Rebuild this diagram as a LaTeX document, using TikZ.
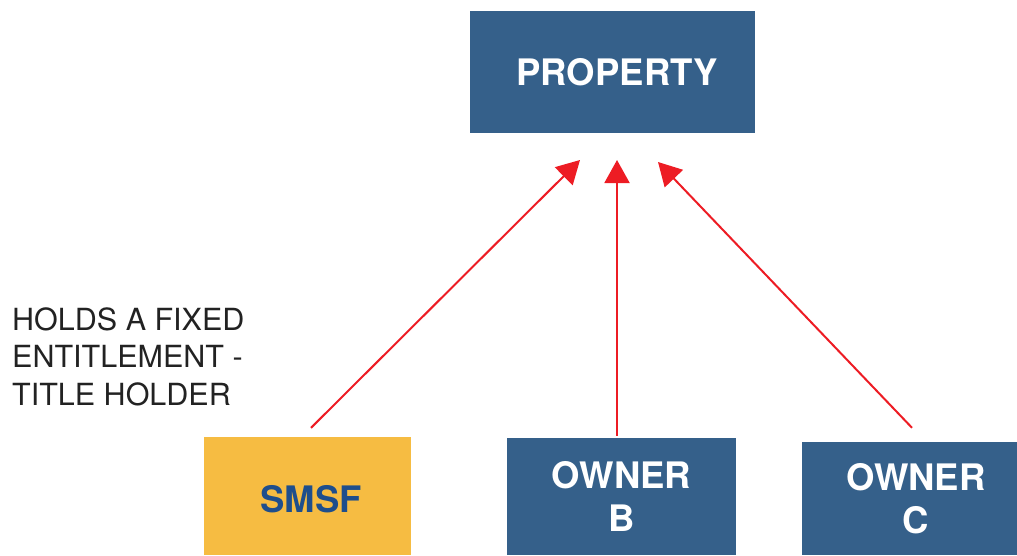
\documentclass[tikz,border=0pt]{standalone}
\usepackage{fontspec}
\setmainfont{TeX Gyre Heros}
\usetikzlibrary{arrows.meta}
\definecolor{boxblue}{RGB}{53,96,138}
\definecolor{boxyellow}{RGB}{246,188,66}
\definecolor{smsftext}{RGB}{30,78,140}
\definecolor{arrred}{RGB}{237,28,36}
\definecolor{txtgray}{RGB}{34,34,34}
\tikzset{
  bluebox/.style={fill=boxblue, draw=none, inner sep=0pt},
  yellowbox/.style={fill=boxyellow, draw=none, inner sep=0pt},
  boxtext/.style={inner sep=0pt, align=center, font=\fontsize{36.5}{43}\selectfont\bfseries},
  arr/.style={draw=arrred, line width=2pt, -{Triangle[length=23pt,width=25pt]}},
  note/.style={text=txtgray, inner sep=0pt, align=left, anchor=north west,
    font=\fontsize{30.5}{37.3}\selectfont}
}
\begin{document}
\begin{tikzpicture}[x=1pt,y=-1pt]
\useasboundingbox (0,0) rectangle (1017,555);
\node[bluebox, minimum width=285pt, minimum height=122pt] (prop) at (612.5,72) {};
\node[yellowbox, minimum width=207pt, minimum height=118pt] (smsf) at (307.5,496) {};
\node[bluebox, minimum width=229pt, minimum height=117pt] (ownb) at (621.5,496.5) {};
\node[bluebox, minimum width=215pt, minimum height=113pt] (ownc) at (909.5,498.5) {};
\node[boxtext, text=white] (proptxt) at ([xshift=4.5pt]prop.center) {PROPERTY};
\node[boxtext, text=smsftext] (smsftxt) at ([xshift=3.5pt,yshift=-3pt]smsf.center) {SMSF};
\node[boxtext, text=white] (ownbtxt) at (ownb.center) {OWNER\\B};
\node[boxtext, text=white] (ownctxt) at ([xshift=6.5pt]ownc.center) {OWNER\\C};
\node[note] (hold) at (12,307.5) {HOLDS A FIXED\\ENTITLEMENT -\\TITLE HOLDER};
\coordinate (t1) at (580,160);
\coordinate (t2) at (617,160);
\coordinate (t3) at (658,162);
\draw[arr, shorten <=12.7pt] ([xshift=-5.5pt]smsf.north) -- (t1);
\draw[arr, shorten <=2pt] ([xshift=-4.5pt]ownb.north) -- (t2);
\draw[arr, shorten <=19.4pt] ([xshift=15.9pt]ownc.north) -- (t3);
\end{tikzpicture}
\end{document}
